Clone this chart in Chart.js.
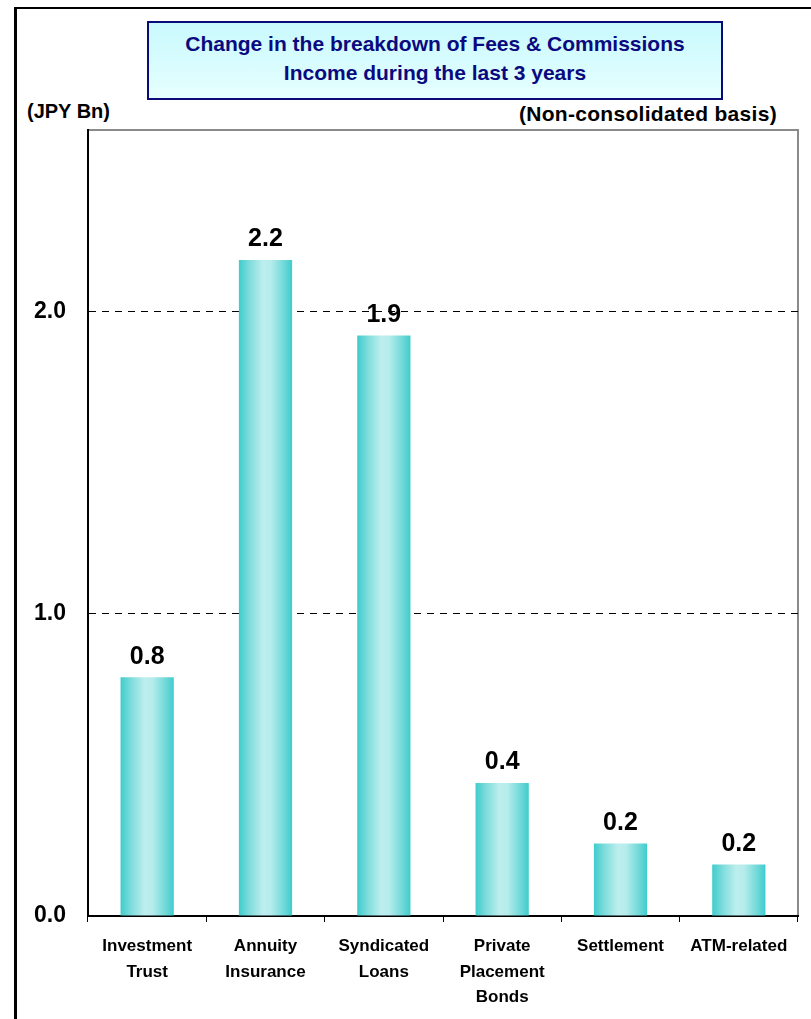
<!DOCTYPE html>
<html>
<head>
<meta charset="utf-8">
<script src="https://cdn.jsdelivr.net/npm/chart.js@4.4.1/dist/chart.umd.min.js"></script>
<style>
  html, body { margin: 0; padding: 0; background: #fff; overflow: hidden; }
  #wrap { position: relative; width: 811px; height: 1019px; overflow: hidden; }
  #frame { position: absolute; left: 14px; top: 7px; width: 900px; height: 1100px;
           border-left: 3px solid #000; border-top: 2px solid #000; }
  #title { position: absolute; left: 147px; top: 21px; width: 572px; height: 69px;
           border: 2px solid #0a0a78;
           background: linear-gradient(to bottom, #c9f9fd, #e6ffff);
           color: #0a0a80; font-family: "Liberation Sans", sans-serif;
           font-weight: bold; font-size: 21px; line-height: 29px; text-align: center;
           padding-top: 6px; box-sizing: content-box; }
  .unit { position: absolute; font-family: "Liberation Sans", sans-serif;
          font-weight: bold; font-size: 20px; color: #000; }
  #unitL { left: 27px; top: 100px; }
  #unitR { right: 34px; top: 102px; font-size: 21px; letter-spacing: 0.3px; }
  canvas { position: absolute; left: 0; top: 0; }
</style>
</head>
<body>
<div id="wrap">
  <div id="frame"></div>
  <div id="title">Change in the breakdown of Fees &amp; Commissions<br>Income during the last 3 years</div>
  <div class="unit" id="unitL">(JPY Bn)</div>
  <div class="unit" id="unitR">(Non-consolidated basis)</div>
  <canvas id="c" width="811" height="1019"></canvas>
</div>
<script>
const categories = [
  ["Investment", "Trust"],
  ["Annuity", "Insurance"],
  ["Syndicated", "Loans"],
  ["Private", "Placement", "Bonds"],
  ["Settlement"],
  ["ATM-related"]
];
const values = [0.79, 2.17, 1.92, 0.44, 0.24, 0.17];
const yTicks = [0, 1, 2];
const yMax = 2.6;
const barPct = 0.45;

function barFill(ctx) {
  const chart = ctx.chart;
  const xs = chart.scales && chart.scales.x;
  if (!xs || !chart.chartArea || ctx.dataIndex === undefined) return '#5fd4d4';
  const cx = xs.getPixelForValue(ctx.dataIndex);
  const w = (xs.width / categories.length) * barPct;
  const g = chart.ctx.createLinearGradient(cx - w / 2, 0, cx + w / 2, 0);
  g.addColorStop(0, '#3fcccc');
  g.addColorStop(0.2, '#7fdcdc');
  g.addColorStop(0.45, '#bdeeee');
  g.addColorStop(0.6, '#b6ecec');
  g.addColorStop(0.85, '#6fd8d8');
  g.addColorStop(1, '#3fcccc');
  return g;
}

const labelPlugin = {
  id: 'valueLabels',
  afterDatasetsDraw(chart) {
    const ctx = chart.ctx;
    const meta = chart.getDatasetMeta(0);
    ctx.save();
    ctx.fillStyle = '#000';
    ctx.font = 'bold 25px "Liberation Sans", Arial, sans-serif';
    ctx.textAlign = 'center';
    ctx.textBaseline = 'bottom';
    meta.data.forEach((bar, i) => {
      ctx.fillText(values[i].toFixed(1), bar.x, bar.y - 8);
    });
    ctx.restore();
  }
};

const framePlugin = {
  id: 'plotFrame',
  beforeDraw(chart) {
    const a = chart.chartArea, ctx = chart.ctx;
    ctx.save();
    ctx.strokeStyle = '#8a8a8a';
    ctx.lineWidth = 2;
    ctx.beginPath();
    ctx.moveTo(a.left, a.top);
    ctx.lineTo(a.right, a.top);
    ctx.lineTo(a.right, a.bottom);
    ctx.stroke();
    ctx.restore();
  }
};

new Chart(document.getElementById('c'), {
  type: 'bar',
  data: {
    labels: categories,
    datasets: [{
      data: values,
      backgroundColor: barFill,
      borderWidth: 0,
      barPercentage: barPct,
      categoryPercentage: 1.0
    }]
  },
  options: {
    responsive: false,
    animation: false,
    events: [],
    layout: { padding: { left: 0, top: 130, right: 13, bottom: 0 } },
    plugins: { legend: { display: false }, tooltip: { enabled: false }, title: { display: false } },
    scales: {
      x: {
        grid: { drawOnChartArea: false, drawTicks: true, tickLength: 6, color: '#000', lineWidth: 1, offset: true },
        border: { color: '#000', width: 2 },
        ticks: {
          color: '#000',
          font: { family: '"Liberation Sans", sans-serif', weight: 'bold', size: 17, lineHeight: 1.5 },
          padding: 12,
          maxRotation: 0, autoSkip: false
        },
        afterFit(axis) { axis.height = 103; }
      },
      y: {
        min: 0, max: yMax,
        afterBuildTicks(axis) { axis.ticks = yTicks.map(v => ({ value: v })); },
        grid: {
          drawTicks: false,
          color: ctx => ctx.tick && ctx.tick.value === 0 ? 'rgba(0,0,0,0)' : '#000',
          lineWidth: 1
        },
        border: { color: '#000', width: 2, dash: [7, 6] },
        ticks: {
          color: '#000',
          font: { family: '"Liberation Sans", Arial, sans-serif', weight: 'bold', size: 23 },
          padding: 22,
          callback: v => Number(v).toFixed(1)
        },
        afterFit(axis) { axis.width = 88; }
      }
    }
  },
  plugins: [framePlugin, labelPlugin]
});
</script>
</body>
</html>
